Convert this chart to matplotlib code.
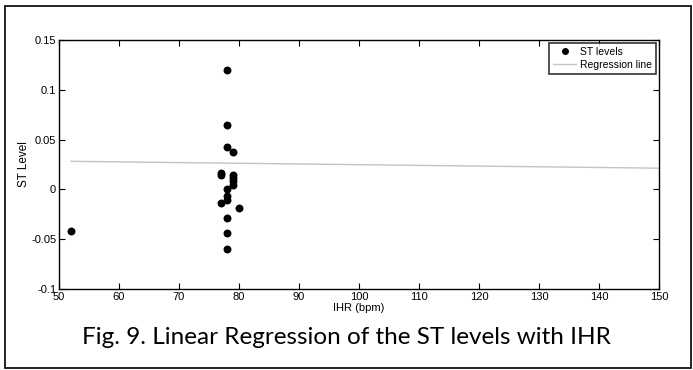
import matplotlib
matplotlib.use('Agg')
import matplotlib.pyplot as plt
from matplotlib.lines import Line2D

# ST level vs instantaneous heart rate
ihr = [52, 78, 78, 78, 79, 77, 77, 79, 79, 79, 79, 78, 78, 78, 77, 80, 78, 78, 78]
st_level = [-0.042, 0.120, 0.065, 0.043, 0.038, 0.016, 0.014, 0.014, 0.011, 0.008, 0.004,
            0.000, -0.007, -0.011, -0.014, -0.019, -0.029, -0.044, -0.060]

# regression line end points
reg_x = [52, 150]
reg_y = [0.0282, 0.0213]

x_ticks = list(range(50, 151, 10))
y_ticks = [-0.1, -0.05, 0, 0.05, 0.1, 0.15]
y_tick_labels = ['-0.1', '-0.05', '0', '0.05', '0.1', '0.15']

plt.rcParams['font.family'] = ['Liberation Sans', 'DejaVu Sans']

fig = plt.figure(figsize=(6.93, 3.70), dpi=100)
W, H = 693, 370
ax = fig.add_axes([59 / W, 1 - 289 / H, 600 / W, 249 / H])

ax.plot(reg_x, reg_y, color='#c4c4c4', linewidth=1.0, label='Regression line', zorder=2)
ax.scatter(ihr, st_level, s=22, color='black', label='ST levels', zorder=3)

ax.set_xlim(50, 150)
ax.set_ylim(-0.1, 0.15)
ax.set_xticks(x_ticks)
ax.set_yticks(y_ticks)
ax.set_yticklabels(y_tick_labels)
ax.tick_params(direction='in', length=4, width=0.8, labelsize=8,
               top=True, right=True, pad=2)
for s in ax.spines.values():
    s.set_linewidth(1.0)

ax.set_xlabel('IHR (bpm)', fontsize=8, labelpad=1)
ax.set_ylabel('ST Level', fontsize=8.5, labelpad=1)

handles = [Line2D([], [], marker='o', color='black', linestyle='none', markersize=4),
           Line2D([], [], color='#c4c4c4', linewidth=1.0)]
leg = ax.legend(handles, ['ST levels', 'Regression line'], loc='upper right',
                fontsize=7.5, frameon=True, fancybox=False, borderaxespad=0.25,
                handlelength=2.2, handletextpad=0.4, borderpad=0.4, labelspacing=0.3)
leg.get_frame().set_edgecolor('black')
leg.get_frame().set_linewidth(1.2)

fig.text(0.5, 1 - 338 / H, 'Fig. 9. Linear Regression of the ST levels with IHR',
         ha='center', va='center', fontsize=17.5, family=['Lato', 'DejaVu Sans'])

# outer frame of the figure panel
fig.add_artist(plt.Rectangle((5 / W, 2 / H), 686 / W, 362 / H, fill=False,
                             edgecolor='black', linewidth=1.2, transform=fig.transFigure))

fig.savefig('out.png', dpi=100)
